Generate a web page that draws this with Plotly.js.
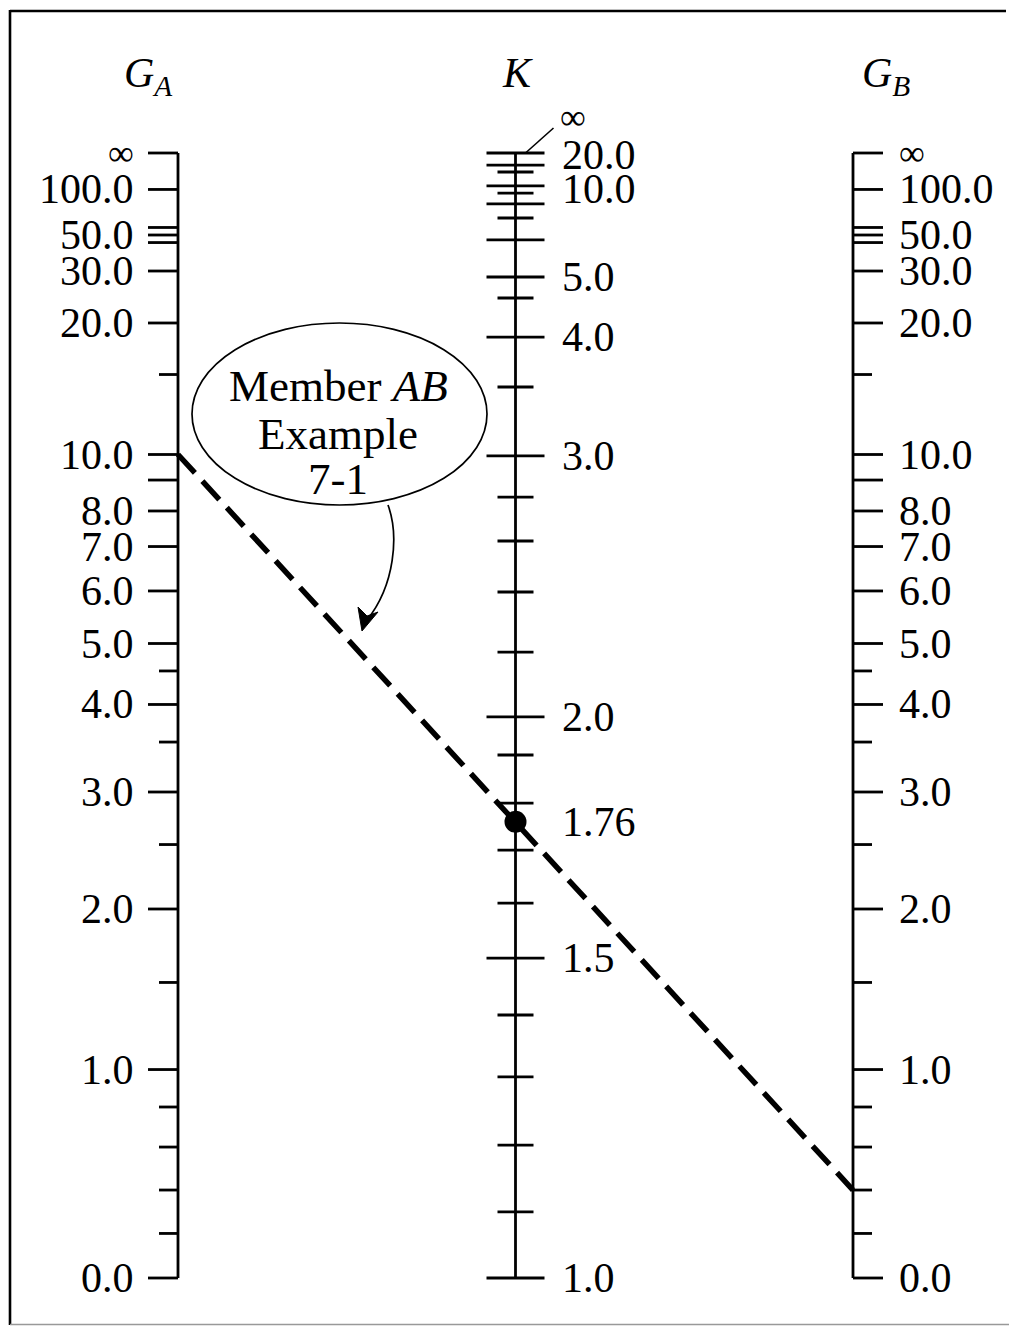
<!DOCTYPE html>
<html>
<head>
<meta charset="utf-8">
<script src="https://cdn.plot.ly/plotly-3.0.1.min.js"></script>
<style>html,body{margin:0;padding:0;background:#fff;}#chart{width:1009px;height:1326px;}</style>
</head>
<body>
<div id="chart"></div>
<script>
// G scale (same graduation for G_A and G_B); position = fraction of scale height (0 bottom, 1 top)
const gValues = [0, 0.2, 0.4, 0.6, 0.8, 1, 1.5, 2, 2.5, 3, 3.5, 4, 4.5, 5, 6, 7, 8, 9, 10, 15, 20, 30, 40, 50, 60, 100, Infinity];
const gPos    = [0, 0.0396, 0.0782, 0.1164, 0.1520, 0.1853, 0.2627, 0.3280, 0.3853, 0.4320, 0.4764, 0.5098, 0.5396, 0.5640, 0.6107, 0.6502, 0.6818, 0.7093, 0.7320, 0.8031, 0.8489, 0.8951, 0.9204, 0.9271, 0.9338, 0.9676, 1.0];
const gMinor  = [0.2, 0.4, 0.6, 0.8, 1.5, 2.5, 3.5, 4.5, 15];
const gLabelValues = [0, 1, 2, 3, 4, 5, 6, 7, 8, 10, 20, 30, 50, 100, Infinity];

// K scale
const kValues = [1.0, 1.1, 1.2, 1.3, 1.4, 1.5, 1.6, 1.7, 1.8, 1.9, 2.0, 2.2, 2.4, 2.6, 2.8, 3.0, 3.5, 4.0, 4.5, 5.0, 6.0, 7.0, 8.0, 9.0, 10.0, 12.0, 15.0, 20.0];
const kPos    = [0, 0.0587, 0.1182, 0.1787, 0.2338, 0.2844, 0.3333, 0.3804, 0.4222, 0.4649, 0.4987, 0.5564, 0.6098, 0.6551, 0.6942, 0.7307, 0.7920, 0.8364, 0.8711, 0.8898, 0.9227, 0.9422, 0.9547, 0.9644, 0.9707, 0.9831, 0.9893, 1.0];
const kMinor  = [1.1, 1.2, 1.3, 1.4, 1.6, 1.7, 1.8, 1.9, 2.2, 2.4, 2.6, 2.8, 3.5, 4.5, 7.0, 9.0, 12.0];
const kLabelValues = [1.0, 1.5, 2.0, 3.0, 4.0, 5.0, 10.0, 20.0];

// Example 7-1, member AB
const exampleGA = 10.0;
const exampleGB = 0.4;
const exampleK  = 1.76;

const scaleNames = ['G<sub>A</sub>', 'K', 'G<sub>B</sub>'];
const calloutLines = ['Member <i>AB</i>', 'Example', '7-1'];

// ---------- GEOMETRY HELPERS ----------
const W = 1009, H = 1326;
const PXU = 337.5;   // px per scale spacing (x)
const PYU = 1125;    // px per full scale length (y)
const X0 = 178, Y0 = 1278;  // pixel location of GA axis base
const X = px => (px - X0) / PXU;
const Y = py => (Y0 - py) / PYU;
const dx = px => px / PXU;
const dy = py => py / PYU;

const FONT = 'Liberation Serif, Times New Roman, serif';
const LBL = 42;

function posOf(vals, pos, v) {
  const i = vals.indexOf(v);
  if (i >= 0) return pos[i];
  for (let j = 0; j < vals.length - 1; j++) {
    if (v > vals[j] && v < vals[j + 1]) {
      return pos[j] + (pos[j + 1] - pos[j]) * (v - vals[j]) / (vals[j + 1] - vals[j]);
    }
  }
  return null;
}
const fmt = v => (v === Infinity ? '∞' : v.toFixed(1));

const traces = [];
const annotations = [];

// ---------- G scales ----------
function gScale(xc, side) {
  const ax = [], ay = [];
  ax.push(xc, xc, null); ay.push(gPos[0], gPos[gPos.length - 1], null);
  gValues.forEach((v, i) => {
    const len = gMinor.includes(v) ? dx(19) : dx(30);
    ax.push(xc, xc + side * len, null);
    ay.push(gPos[i], gPos[i], null);
  });
  traces.push({x: ax, y: ay, mode: 'lines', line: {color: '#000', width: 2.8}, hoverinfo: 'skip'});
  gLabelValues.forEach(v => {
    annotations.push({
      x: xc + side * dx(side < 0 ? 42 : 44), y: posOf(gValues, gPos, v),
      xref: 'x', yref: 'y', text: fmt(v), showarrow: false,
      xanchor: side < 0 ? 'right' : 'left', yanchor: 'middle',
      font: {family: FONT, size: v === Infinity ? 36 : LBL, color: '#000'}
    });
  });
}
gScale(0, -1);
gScale(2, 1);

// ---------- K scale ----------
(function () {
  const ax = [], ay = [];
  ax.push(1, 1, null); ay.push(kPos[0], kPos[kPos.length - 1], null);
  kValues.forEach((v, i) => {
    const half = kMinor.includes(v) ? dx(18) : dx(29);
    ax.push(1 - half, 1 + half, null);
    ay.push(kPos[i], kPos[i], null);
  });
  traces.push({x: ax, y: ay, mode: 'lines', line: {color: '#000', width: 2.8}, hoverinfo: 'skip'});
  kLabelValues.forEach(v => {
    annotations.push({
      x: 1 + dx(44), y: posOf(kValues, kPos, v) - (v === 10 ? dy(3) : (v === 20 ? dy(2) : 0)),
      xref: 'x', yref: 'y', text: fmt(v), showarrow: false,
      xanchor: 'left', yanchor: 'middle',
      font: {family: FONT, size: LBL, color: '#000'}
    });
  });
  const top = kPos[kPos.length - 1];
  traces.push({x: [1 + dx(10), 1 + dx(38)], y: [top, top + dy(25)], mode: 'lines',
               line: {color: '#000', width: 1.6}, hoverinfo: 'skip'});
  annotations.push({x: 1 + dx(42), y: top + dy(36), xref: 'x', yref: 'y', text: '∞', showarrow: false,
                    xanchor: 'left', yanchor: 'middle', font: {family: FONT, size: 36, color: '#000'}});
})();

// ---------- Example line ----------
const pGA = posOf(gValues, gPos, exampleGA);
const pGB = posOf(gValues, gPos, exampleGB);
const pK  = posOf(kValues, kPos, exampleK);
traces.push({x: [0, 1, 2], y: [pGA, pK, pGB], mode: 'lines',
             line: {color: '#000', width: 5.5, dash: '25px,11.1px'}, hoverinfo: 'skip'});
traces.push({x: [1], y: [pK], mode: 'markers', marker: {color: '#000', size: 22}, hoverinfo: 'skip'});
annotations.push({x: 1 + dx(44), y: pK, xref: 'x', yref: 'y', text: exampleK.toFixed(2), showarrow: false,
                  xanchor: 'left', yanchor: 'middle', font: {family: FONT, size: LBL, color: '#000'}});

// ---------- Scale titles ----------
[[X(148), Y(76)], [1 + dx(2), Y(73)], [X(886), Y(76)]].forEach((p, i) => {
  annotations.push({x: p[0], y: p[1], xref: 'x', yref: 'y', text: '<i>' + scaleNames[i] + '</i>',
                    showarrow: false, xanchor: 'center', yanchor: 'middle',
                    font: {family: FONT, size: 42, color: '#000'}});
});

// ---------- Callout ----------
[Y(386), Y(434), Y(479)].forEach((yy, i) => {
  annotations.push({x: X(338), y: yy, xref: 'x', yref: 'y', text: calloutLines[i], showarrow: false,
                    xanchor: 'center', yanchor: 'middle', font: {family: FONT, size: 45, color: '#000'}});
});

const P = (px, py) => X(px) + ',' + Y(py);
const shapes = [
  {type: 'circle', xref: 'x', yref: 'y', x0: X(192), x1: X(487), y0: Y(505), y1: Y(323),
   line: {color: '#000', width: 1.7}, fillcolor: 'rgba(0,0,0,0)'},
  {type: 'path', xref: 'x', yref: 'y',
   path: 'M' + P(388, 505) + ' C' + P(399, 535) + ' ' + P(395, 585) + ' ' + P(367, 620),
   line: {color: '#000', width: 1.7}},
  {type: 'path', xref: 'x', yref: 'y',
   path: 'M' + P(362, 631) + ' L' + P(358, 607) + ' L' + P(367, 616) + ' L' + P(378, 612) + ' Z',
   line: {color: '#000', width: 1}, fillcolor: '#000'},
  // frame
  {type: 'line', xref: 'paper', yref: 'paper', x0: 10 / W, x1: 1006 / W, y0: 1 - 11 / H, y1: 1 - 11 / H,
   line: {color: '#000', width: 2.6}},
  {type: 'line', xref: 'paper', yref: 'paper', x0: 10 / W, x1: 10 / W, y0: 1 - 10 / H, y1: 1 - 1325 / H,
   line: {color: '#000', width: 2.6}},
  {type: 'line', xref: 'paper', yref: 'paper', x0: 10 / W, x1: 1009 / W, y0: 1 - 1324.5 / H, y1: 1 - 1324.5 / H,
   line: {color: '#999', width: 1.5}}
];

const layout = {
  width: W, height: H,
  margin: {l: 0, r: 0, t: 0, b: 0, pad: 0},
  paper_bgcolor: '#fff', plot_bgcolor: '#fff',
  showlegend: false, hovermode: false,
  xaxis: {range: [X(0), X(W)], visible: false, fixedrange: true},
  yaxis: {range: [Y(H), Y(0)], visible: false, fixedrange: true},
  shapes: shapes,
  annotations: annotations
};
traces.forEach(t => { t.cliponaxis = false; t.showlegend = false; });
Plotly.newPlot('chart', traces, layout, {staticPlot: true, displayModeBar: false});
</script>
</body>
</html>
